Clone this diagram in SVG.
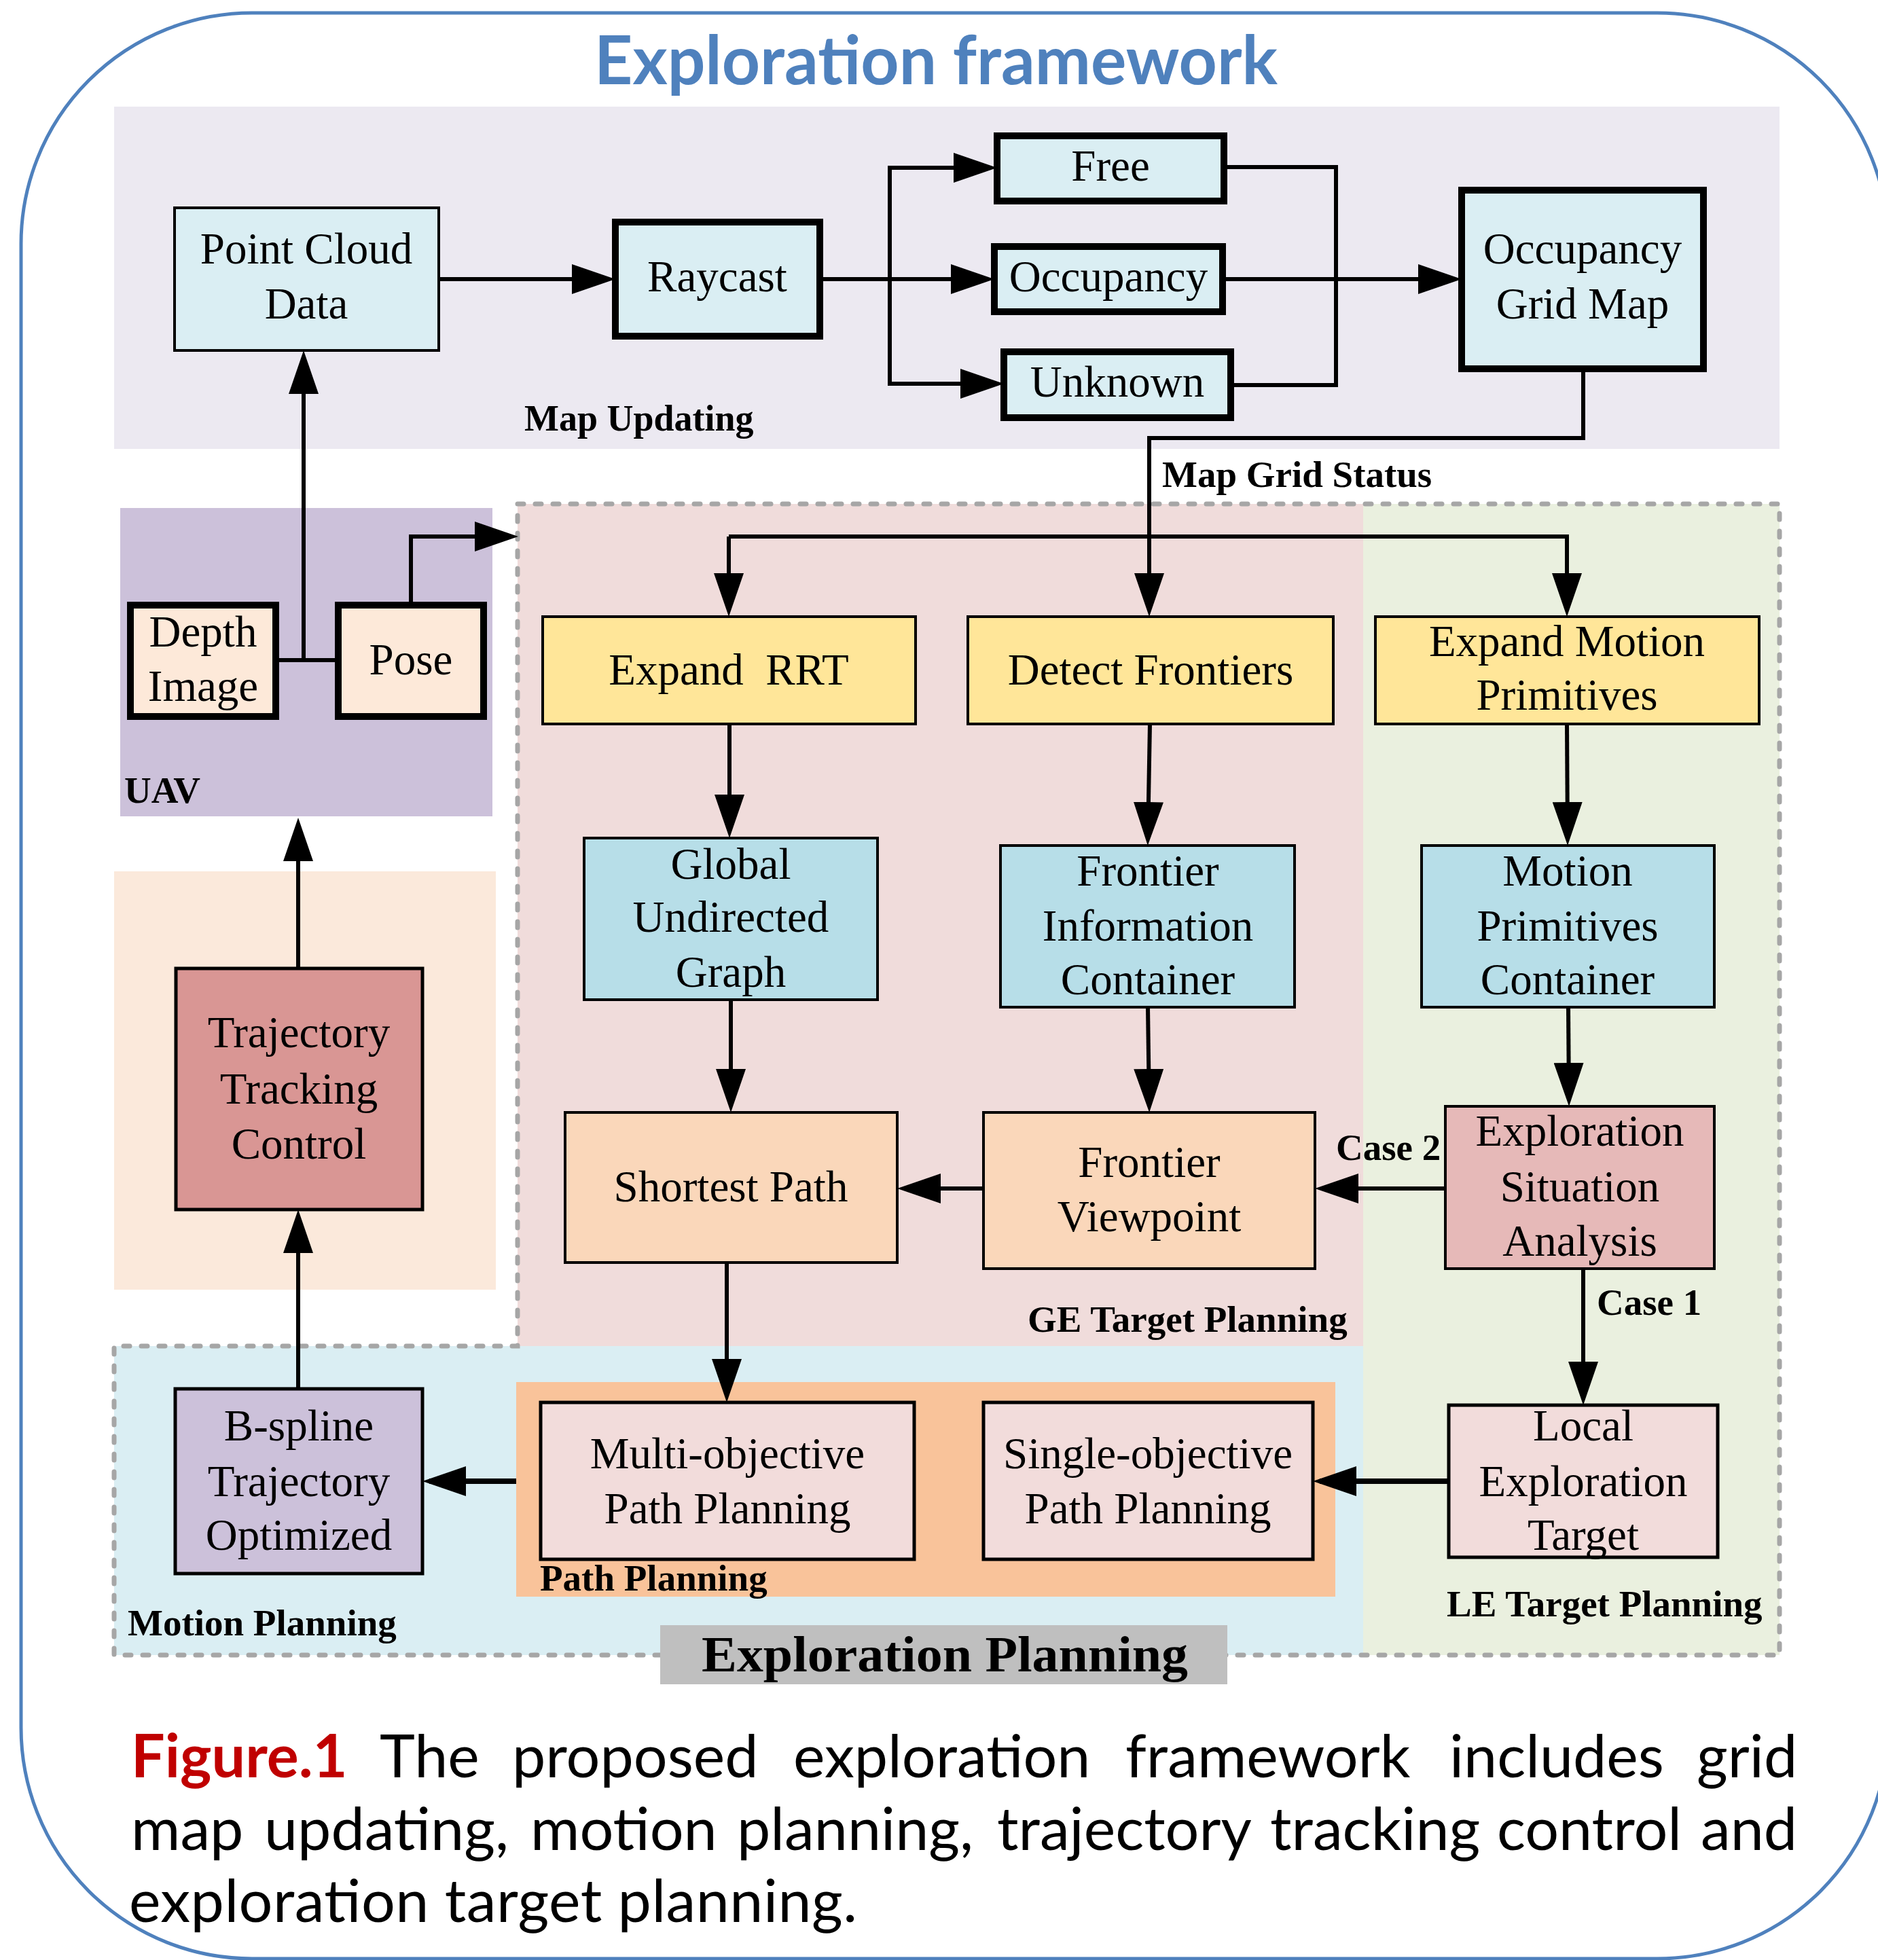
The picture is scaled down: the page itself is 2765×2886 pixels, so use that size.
<svg xmlns="http://www.w3.org/2000/svg" width="2765" height="2886" viewBox="0 0 2765 2886">
<defs>
<style>
.n{stroke:#000;stroke-width:4}
.k{stroke:#000;stroke-width:10}
.m{stroke:#000;stroke-width:5}
.t{font-family:"Liberation Serif","Times New Roman",serif;font-size:65px;fill:#000;text-anchor:middle}
.b{font-family:"Liberation Serif","Times New Roman",serif;font-size:55px;font-weight:bold;fill:#000}
.c{fill:none;stroke:#000;stroke-width:6}
.cw{fill:none;stroke:#000;stroke-width:8}
.cap{font-family:Lato,"Open Sans",sans-serif;font-size:88px;fill:#000}
</style>
<marker id="ah" markerUnits="userSpaceOnUse" markerWidth="64" markerHeight="44" refX="54" refY="22" orient="auto" viewBox="0 0 64 44"><path d="M0,0L64,22L0,44z" fill="#000"/></marker>
</defs>
<rect x="0" y="0" width="2765" height="2886" fill="#fff"/>
<rect x="31" y="19" width="2749" height="2865" rx="340" ry="340" fill="none" stroke="#4F81BD" stroke-width="5"/>
<text x="875" y="124" font-family="Lato,'Open Sans',sans-serif" font-weight="bold" font-size="100" fill="#4F81BD" textLength="1006" lengthAdjust="spacingAndGlyphs">Exploration framework</text>

<g id="regions">
<rect x="168" y="157" width="2452" height="504" fill="#ECE9F1"/>
<rect x="177" y="748" width="548" height="454" fill="#CCC1DA"/>
<rect x="168" y="1283" width="562" height="616" fill="#FBE9DB"/>
<rect x="762" y="742" width="1245" height="1240" fill="#F0DCDB"/>
<rect x="2007" y="742" width="613" height="1695" fill="#EAF0DF"/>
<rect x="168" y="1982" width="1839" height="455" fill="#DAEEF3"/>
<rect x="760" y="2035" width="1206" height="316" fill="#F9C39A"/>
<path d="M762,742H2620V2437H168V1982H762Z" fill="none" stroke="#A6A6A6" stroke-width="7" stroke-dasharray="9 17" stroke-linecap="round"/>
<rect x="972" y="2393" width="835" height="87" fill="#BFBFBF"/>
<text class="b" x="772" y="634" style="font-size:54px">Map Updating</text>
<text class="b" x="183" y="1182">UAV</text>
<text class="b" x="1513" y="1961">GE Target Planning</text>
<text class="b" x="795" y="2342">Path Planning</text>
<text class="b" x="188" y="2408">Motion Planning</text>
<text class="b" x="2130" y="2380">LE Target Planning</text>
<text class="b" x="1033" y="2461" style="font-size:75px" textLength="716" lengthAdjust="spacingAndGlyphs">Exploration Planning</text>
</g>

<g id="connectors">
<path class="c" d="M646,411H896" marker-end="url(#ah)"/>
<path class="c" d="M1207,411H1454" marker-end="url(#ah)"/>
<path class="c" d="M1310,411V247H1458" marker-end="url(#ah)"/>
<path class="c" d="M1310,411V565H1468" marker-end="url(#ah)"/>
<path class="c" d="M1802,246H1967V567H1812"/>
<path class="c" d="M1800,411H2142" marker-end="url(#ah)"/>
<path class="c" d="M2331,543V645H1692V898" marker-end="url(#ah)"/>
<path class="c" d="M1073,790H2307V898" marker-end="url(#ah)"/>
<path class="c" d="M1073,790V898" marker-end="url(#ah)"/>
<path class="c" d="M406,972H498"/>
<path class="c" d="M447,972V526" marker-end="url(#ah)"/>
<path class="c" d="M605,891V790H753" marker-end="url(#ah)"/>
<path class="c" d="M439,1426V1214" marker-end="url(#ah)"/>
<path class="c" d="M439,2045V1791" marker-end="url(#ah)"/>
<path class="c" d="M1074,1066V1224" marker-end="url(#ah)"/>
<path class="c" d="M1076,1472V1628" marker-end="url(#ah)"/>
<path class="c" d="M1070,1859V2055" marker-end="url(#ah)"/>
<path class="c" d="M1693,1066L1690,1235" marker-end="url(#ah)"/>
<path class="c" d="M1690,1483L1692,1628" marker-end="url(#ah)"/>
<path class="c" d="M2307,1066L2308,1235" marker-end="url(#ah)"/>
<path class="c" d="M2309,1483L2310,1619" marker-end="url(#ah)"/>
<path class="c" d="M2128,1750H1946" marker-end="url(#ah)"/>
<path class="c" d="M1448,1750H1331" marker-end="url(#ah)"/>
<path class="c" d="M2331,1868V2059" marker-end="url(#ah)"/>
<path class="cw" d="M2133,2181H1943" marker-end="url(#ah)"/>
<path class="cw" d="M760,2181H632" marker-end="url(#ah)"/>
<text class="b" x="1711" y="717">Map Grid Status</text>
<text class="b" x="1967" y="1708">Case 2</text>
<text class="b" x="2351" y="1936">Case 1</text>
</g>

<g id="point-cloud"><rect class="n" x="257" y="306" width="389" height="210" fill="#DAEEF3"/><text class="t" x="451" y="388">Point Cloud</text><text class="t" x="451" y="469">Data</text></g>
<g id="raycast"><rect class="k" x="906" y="327" width="301" height="168" fill="#DAEEF3"/><text class="t" x="1056" y="429">Raycast</text></g>
<g id="free"><rect class="k" x="1468" y="200" width="334" height="96" fill="#DAEEF3"/><text class="t" x="1635" y="266">Free</text></g>
<g id="occupancy"><rect class="k" x="1464" y="363" width="336" height="96" fill="#DAEEF3"/><text class="t" x="1632" y="429">Occupancy</text></g>
<g id="unknown"><rect class="k" x="1478" y="518" width="334" height="97" fill="#DAEEF3"/><text class="t" x="1645" y="584">Unknown</text></g>
<g id="ogm"><rect class="k" x="2152" y="280" width="356" height="263" fill="#DAEEF3"/><text class="t" x="2330" y="388">Occupancy</text><text class="t" x="2330" y="469">Grid Map</text></g>
<g id="depth"><rect class="k" x="192" y="891" width="214" height="164" fill="#FDE9D9"/><text class="t" x="299" y="952">Depth</text><text class="t" x="299" y="1032">Image</text></g>
<g id="pose"><rect class="k" x="498" y="891" width="214" height="164" fill="#FDE9D9"/><text class="t" x="605" y="993">Pose</text></g>
<g id="ttc"><rect class="m" x="259" y="1426" width="363" height="355" fill="#D99694"/><text class="t" x="440" y="1542">Trajectory</text><text class="t" x="440" y="1625">Tracking</text><text class="t" x="440" y="1706">Control</text></g>
<g id="expand-rrt"><rect class="n" x="799" y="908" width="549" height="158" fill="#FFE699"/><text class="t" x="1073" y="1008" xml:space="preserve">Expand  RRT</text></g>
<g id="gug"><rect class="n" x="860" y="1234" width="432" height="238" fill="#B7DEE8"/><text class="t" x="1076" y="1294">Global</text><text class="t" x="1076" y="1372">Undirected</text><text class="t" x="1076" y="1453">Graph</text></g>
<g id="shortest"><rect class="n" x="832" y="1638" width="489" height="221" fill="#FAD7BA"/><text class="t" x="1076" y="1769">Shortest Path</text></g>
<g id="detect"><rect class="n" x="1425" y="908" width="538" height="158" fill="#FFE699"/><text class="t" x="1694" y="1008">Detect Frontiers</text></g>
<g id="emp"><rect class="n" x="2025" y="908" width="565" height="158" fill="#FFE699"/><text class="t" x="2307" y="966">Expand Motion</text><text class="t" x="2307" y="1045">Primitives</text></g>
<g id="fic"><rect class="n" x="1473" y="1245" width="433" height="238" fill="#B7DEE8"/><text class="t" x="1690" y="1304">Frontier</text><text class="t" x="1690" y="1385">Information</text><text class="t" x="1690" y="1464">Container</text></g>
<g id="mpc"><rect class="n" x="2093" y="1245" width="431" height="238" fill="#B7DEE8"/><text class="t" x="2308" y="1304">Motion</text><text class="t" x="2308" y="1385">Primitives</text><text class="t" x="2308" y="1464">Container</text></g>
<g id="fv"><rect class="n" x="1448" y="1638" width="488" height="230" fill="#FAD7BA"/><text class="t" x="1692" y="1733">Frontier</text><text class="t" x="1692" y="1813">Viewpoint</text></g>
<g id="esa"><rect class="n" x="2128" y="1629" width="396" height="239" fill="#E6B9B8"/><text class="t" x="2326" y="1687">Exploration</text><text class="t" x="2326" y="1769">Situation</text><text class="t" x="2326" y="1849">Analysis</text></g>
<g id="mopp"><rect class="m" x="796" y="2065" width="550" height="231" fill="#F2DCDB"/><text class="t" x="1071" y="2162">Multi-objective</text><text class="t" x="1071" y="2243">Path Planning</text></g>
<g id="sopp"><rect class="m" x="1448" y="2065" width="485" height="231" fill="#F2DCDB"/><text class="t" x="1690" y="2162">Single-objective</text><text class="t" x="1690" y="2243">Path Planning</text></g>
<g id="let"><rect class="m" x="2133" y="2069" width="396" height="224" fill="#F2DCDB"/><text class="t" x="2331" y="2121">Local</text><text class="t" x="2331" y="2203">Exploration</text><text class="t" x="2331" y="2282">Target</text></g>
<g id="bspline"><rect class="m" x="258" y="2045" width="364" height="272" fill="#CCC1DA"/><text class="t" x="440" y="2121">B-spline</text><text class="t" x="440" y="2203">Trajectory</text><text class="t" x="440" y="2282">Optimized</text></g>

<g id="caption">
<text class="cap" y="2617"><tspan x="193" font-weight="bold" fill="#C00000">Figure.1</tspan><tspan x="559">The</tspan><tspan x="754">proposed</tspan><tspan x="1168">exploration</tspan><tspan x="1657">framework</tspan><tspan x="2134">includes</tspan><tspan x="2498">grid</tspan></text>
<text class="cap" y="2724"><tspan x="193">map</tspan><tspan x="389">updating,</tspan><tspan x="781">motion</tspan><tspan x="1085">planning,</tspan><tspan x="1468">trajectory</tspan><tspan x="1870">tracking</tspan><tspan x="2204">control</tspan><tspan x="2504">and</tspan></text>
<text class="cap" y="2830" x="190" textLength="1072">exploration target planning.</text>
</g>
</svg>
